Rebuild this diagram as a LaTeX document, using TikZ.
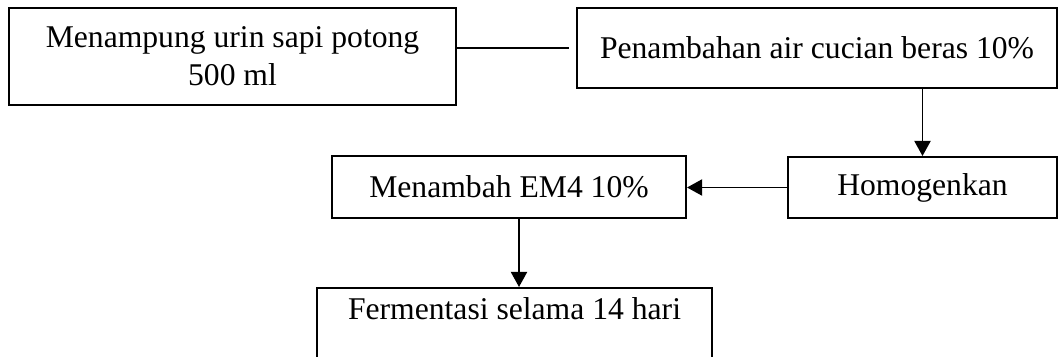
\documentclass[tikz,border=0pt]{standalone}
\usepackage{fontspec}
\setmainfont{Liberation Serif}
\usetikzlibrary{calc, arrows.meta, positioning}

\begin{document}
\begin{tikzpicture}[x=0.025cm, y=-0.025cm,
    kotak/.style={draw, line width=1.4pt, align=center, inner sep=0pt, font=\fontsize{22.5}{27}\selectfont},
    garis/.style={line width=1.4pt},
    panah/.style={-{Triangle[length=10.7pt, width=11.4pt]}, line width=1.4pt}]
    \useasboundingbox (0,0) rectangle (1059,356);
    \clip (0,0) rectangle (1059,356);

    \node[kotak, minimum width=11.175cm, minimum height=2.425cm] (tampung) at (232.5, 56.5) {Menampung urin sapi potong\\500 ml};
    \node[kotak, minimum width=12cm, minimum height=2cm] (beras) at (817, 48) {Penambahan air cucian beras 10\%};
    \node[kotak, minimum width=6.725cm, minimum height=1.525cm] (homogen) at (922.5, 187.5) {Homogenkan};
    \node[kotak, minimum width=8.85cm, minimum height=1.55cm] (em4) at (509, 187) {Menambah EM4 10\%};
    \node[kotak, anchor=north, minimum width=9.875cm, text height=0.8cm, text depth=2cm] (fermentasi) at (514.5, 287) {Fermentasi selama 14 hari};

    \draw[garis, shorten <=5pt] (beras.west) -- (beras.west -| tampung.east);
    \draw[panah] (homogen.north |- beras.south) -- (homogen.north);
    \draw[panah] (homogen.west) -- (homogen.west -| em4.east);
    \draw[panah] ([xshift=0.25cm]em4.south) -- ([xshift=0.25cm]em4.south |- fermentasi.north);

\end{tikzpicture}
\end{document}
